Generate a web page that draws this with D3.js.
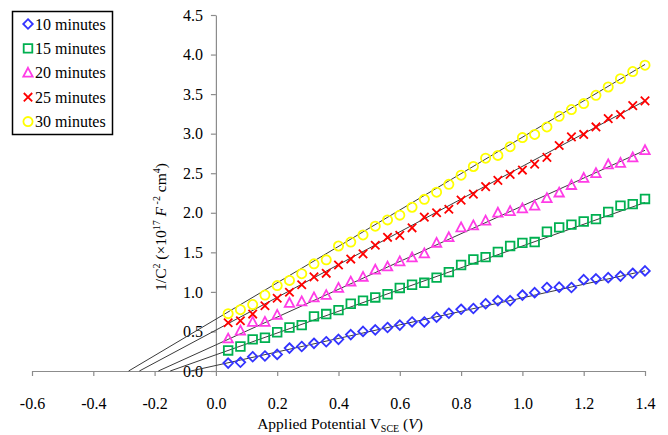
<!DOCTYPE html>
<html>
<head>
<meta charset="utf-8">
<script src="https://cdn.jsdelivr.net/npm/d3@7"></script>
<style>
  html, body { margin: 0; padding: 0; background: #fff; }
  svg { display: block; }
  text { font-family: "Liberation Serif", "Times New Roman", serif; fill: #000; }
</style>
</head>
<body>
<svg id="chart" width="668" height="435"></svg>
<script>
// Mott–Schottky data: 1/C^2 versus applied potential for five anodising times
const potentials = [0.04, 0.08, 0.12, 0.16, 0.20, 0.24, 0.28, 0.32, 0.36, 0.40,
                    0.44, 0.48, 0.52, 0.56, 0.60, 0.64, 0.68, 0.72, 0.76, 0.80,
                    0.84, 0.88, 0.92, 0.96, 1.00, 1.04, 1.08, 1.12, 1.16, 1.20,
                    1.24, 1.28, 1.32, 1.36, 1.40];

const seriesNames = ["10 minutes", "15 minutes", "20 minutes", "25 minutes", "30 minutes"];

const min10 = [0.10, 0.11, 0.18, 0.19, 0.21, 0.29, 0.31, 0.35, 0.37, 0.40,
               0.46, 0.50, 0.52, 0.55, 0.58, 0.62, 0.62, 0.68, 0.73, 0.78,
               0.79, 0.85, 0.89, 0.89, 0.96, 0.99, 1.055, 1.06, 1.055, 1.155,
               1.165, 1.18, 1.20, 1.235, 1.265];
const min15 = [0.26, 0.31, 0.40, 0.42, 0.49, 0.55, 0.58, 0.69, 0.72, 0.77,
               0.85, 0.89, 0.93, 0.97, 1.05, 1.09, 1.115, 1.18, 1.25, 1.34,
               1.41, 1.44, 1.505, 1.58, 1.62, 1.63, 1.76, 1.815, 1.85, 1.89,
               1.92, 2.01, 2.09, 2.11, 2.175];
const min20 = [0.41, 0.51, 0.62, 0.62, 0.71, 0.86, 0.88, 0.93, 0.96, 1.05,
               1.13, 1.19, 1.28, 1.32, 1.385, 1.435, 1.485, 1.62, 1.69, 1.815,
               1.84, 1.90, 2.00, 2.02, 2.055, 2.09, 2.185, 2.255, 2.35, 2.44,
               2.50, 2.61, 2.63, 2.70, 2.79];
const min25 = [0.61, 0.635, 0.72, 0.825, 0.92, 0.995, 1.09, 1.19, 1.235, 1.34,
               1.415, 1.48, 1.59, 1.69, 1.715, 1.81, 1.945, 2.00, 2.045, 2.16,
               2.235, 2.33, 2.41, 2.485, 2.54, 2.615, 2.70, 2.85, 2.96, 2.99,
               3.085, 3.19, 3.24, 3.355, 3.415];
const min30 = [0.725, 0.775, 0.84, 0.96, 1.08, 1.145, 1.23, 1.355, 1.405, 1.58,
               1.63, 1.72, 1.83, 1.91, 1.97, 2.07, 2.17, 2.26, 2.36, 2.475,
               2.585, 2.69, 2.725, 2.835, 2.95, 2.99, 3.085, 3.22, 3.305, 3.38,
               3.485, 3.59, 3.695, 3.785, 3.865];

// Linear fits (slope, intercept) of each series
const fitSlope = [0.855, 1.375, 1.757, 2.07, 2.30];
const fitIntercept = [0.07, 0.205, 0.33, 0.517, 0.655];

const xTicks = [-0.6, -0.4, -0.2, 0.0, 0.2, 0.4, 0.6, 0.8, 1.0, 1.2, 1.4];
const yTicks = [0.0, 0.5, 1.0, 1.5, 2.0, 2.5, 3.0, 3.5, 4.0, 4.5];

const seriesValues = [min10, min15, min20, min25, min30];
const colors = ["#3333ff", "#00b050", "#ff3ce6", "#ff0000", "#ffff00"];
const shapes = ["diamond", "square", "triangle", "cross", "circle"];

const svg = d3.select("#chart");
const x = d3.scaleLinear().domain([-0.6, 1.4]).range([32, 645]);
const y = d3.scaleLinear().domain([0, 4.5]).range([371, 15]);

// marker path for a given shape, centred on the origin
function markerPath(shape) {
  switch (shape) {
    case "diamond": { const r = 4.8; return `M0,${-r}L${r},0L0,${r}L${-r},0Z`; }
    case "square": { const h = 4.3; return `M${-h},${-h}H${h}V${h}H${-h}Z`; }
    case "triangle": { const w = 4.7, t = 5.0, b = 3.9; return `M0,${-t}L${w},${b}L${-w},${b}Z`; }
    case "cross": { const h = 4.2; return `M${-h},${-h}L${h},${h}M${-h},${h}L${h},${-h}`; }
    case "circle": { const r = 4.6; return `M${r},0A${r},${r} 0 1,1 ${-r},0A${r},${r} 0 1,1 ${r},0Z`; }
  }
}

// axes
const fmt = d => d.toFixed(1);
const xAxis = svg.append("g")
  .attr("transform", `translate(0,${y(0)})`)
  .call(d3.axisBottom(x).tickValues(xTicks).tickFormat(fmt).tickSize(5).tickSizeOuter(0).tickPadding(22));
const yAxis = svg.append("g")
  .attr("transform", `translate(${x(0)},0)`)
  .call(d3.axisLeft(y).tickValues(yTicks).tickFormat(fmt).tickSize(5).tickSizeOuter(0).tickPadding(8));

[xAxis, yAxis].forEach(g => {
  g.select(".domain").attr("stroke", "#8c8c8c").attr("stroke-width", 1.2);
  g.selectAll(".tick line").attr("stroke", "#8c8c8c").attr("stroke-width", 1.2);
  g.selectAll(".tick text")
    .attr("font-family", "Liberation Serif, Times New Roman, serif")
    .attr("font-size", 16).attr("fill", "#000");
});

// fitted lines, from the potential axis crossing up to the last potential
const fitG = svg.append("g");
fitSlope.forEach((m, i) => {
  const b = fitIntercept[i];
  const x0 = Math.max(-0.6, -b / m);
  const x1 = potentials[potentials.length - 1];
  fitG.append("line")
    .attr("x1", x(x0)).attr("y1", y(m * x0 + b))
    .attr("x2", x(x1)).attr("y2", y(m * x1 + b))
    .attr("stroke", "#3a3a3a").attr("stroke-width", 1);
});

// data markers
seriesValues.forEach((vals, i) => {
  svg.append("g").selectAll("path")
    .data(vals)
    .join("path")
    .attr("transform", (d, j) => `translate(${x(potentials[j])},${y(d)})`)
    .attr("d", markerPath(shapes[i]))
    .attr("fill", "none")
    .attr("stroke", colors[i])
    .attr("stroke-width", 1.8);
});

// legend
const legend = svg.append("g");
legend.append("rect")
  .attr("x", 12.5).attr("y", 11.5).attr("width", 100).attr("height", 123)
  .attr("fill", "#fff").attr("stroke", "#000").attr("stroke-width", 1.5);
seriesNames.forEach((name, i) => {
  const cy = 24 + i * 24.4;
  legend.append("path")
    .attr("transform", `translate(28,${cy})`)
    .attr("d", markerPath(shapes[i]))
    .attr("fill", "none").attr("stroke", colors[i]).attr("stroke-width", 1.8);
  legend.append("text")
    .attr("x", 35).attr("y", cy + 5.5)
    .attr("font-size", 16)
    .text(name);
});

// y-axis title: 1/C² (×10¹⁷ F⁻² cm⁴)
const yTitle = svg.append("text")
  .attr("transform", "translate(166,227) rotate(-90)")
  .attr("text-anchor", "middle")
  .attr("font-size", 15.5);
yTitle.append("tspan").text("1/C");
yTitle.append("tspan").attr("font-size", 10).attr("dy", -6).text("2");
yTitle.append("tspan").attr("dy", 6).text(" (×10");
yTitle.append("tspan").attr("font-size", 10).attr("dy", -6).text("17");
yTitle.append("tspan").attr("dy", 6).attr("font-style", "italic").text(" F");
yTitle.append("tspan").attr("font-size", 10).attr("dy", -6).text(" -2");
yTitle.append("tspan").attr("dy", 6).text(" cm");
yTitle.append("tspan").attr("font-size", 10).attr("dy", -6).text("4");
yTitle.append("tspan").attr("dy", 6).text(")");

// x-axis title: Applied Potential V_SCE (V)
const xTitle = svg.append("text")
  .attr("x", 340).attr("y", 429)
  .attr("text-anchor", "middle")
  .attr("font-size", 15.5);
xTitle.append("tspan").text("Applied Potential V");
xTitle.append("tspan").attr("font-size", 10).attr("dy", 3).text("SCE");
xTitle.append("tspan").attr("dy", -3).text(" (");
xTitle.append("tspan").attr("font-style", "italic").text("V");
xTitle.append("tspan").text(")");
</script>
</body>
</html>
